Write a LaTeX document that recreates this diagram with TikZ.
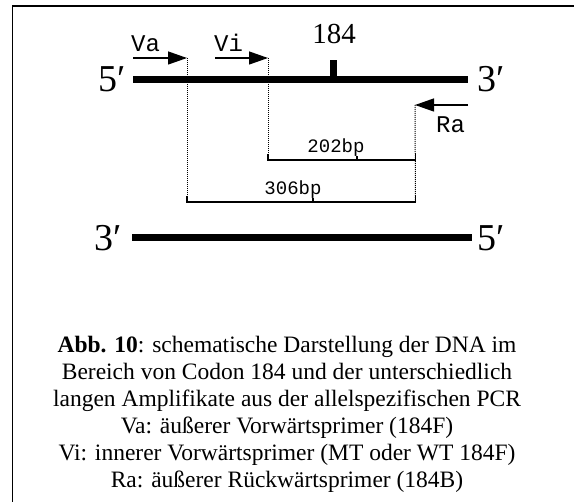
\documentclass[tikz,border=0pt]{standalone}
\usepackage{fontspec}
\setmainfont{Liberation Serif}
\newfontfamily\monof{Liberation Mono}
\usetikzlibrary{arrows.meta}
\begin{document}
\begin{tikzpicture}[x=1pt,y=-1pt,
  strand/.style={line width=7pt},
  primer/.style={line width=1.3pt,-{Triangle[length=19pt,width=13pt]}},
  dotline/.style={line width=1pt,dash pattern=on 1pt off 1pt},
  bracket/.style={line width=1.2pt},
  endlbl/.style={font=\fontsize{38}{38}\selectfont,inner sep=0pt},
  numlbl/.style={font=\fontsize{29}{29}\selectfont,inner sep=0pt},
  plbl/.style={font=\monof\fontsize{24}{24}\selectfont,inner sep=0pt,anchor=base west},
  bplbl/.style={font=\monof\fontsize{19}{19}\selectfont,inner sep=0pt,anchor=base},
  caplbl/.style={font=\fontsize{23.5}{27}\selectfont,inner sep=0pt,anchor=base}]
\useasboundingbox (0,0) rectangle (574,502);
% frame (top and left edges visible)
\coordinate (fl) at (12.5,502);
\coordinate (fc) at (12.5,6);
\coordinate (fr) at (574,6);
\draw[line width=1.5pt] (fl) -- (fc) -- (fr);
% top strand
\coordinate (t1) at (133,79.5);
\coordinate (t2) at (468,79.5);
\draw[strand] (t1) -- (t2);
\node[endlbl] (t5) at (112,79) {5′};
\node[endlbl] (t3) at (491,79) {3′};
% codon 184 tick
\coordinate (c0) at (333.5,79.5);
\coordinate (c1) at (333.5,60);
\draw[line width=7pt] (c0) -- (c1);
\node[numlbl] (c184) at (334,34) {184};
% bottom strand
\coordinate (b1) at (132,237.5);
\coordinate (b2) at (472,237.5);
\draw[strand] (b1) -- (b2);
\node[endlbl] (b3) at (108,238) {3′};
\node[endlbl] (b5) at (491,238) {5′};
% primers
\coordinate (va0) at (133,58);
\coordinate (va1) at (187,58);
\draw[primer] (va0) -- (va1);
\node[plbl] (va) at (131,52) {Va};
\coordinate (vi0) at (215,58);
\coordinate (vi1) at (268,58);
\draw[primer] (vi0) -- (vi1);
\node[plbl] (vi) at (214,52) {Vi};
\coordinate (ra0) at (468,105);
\coordinate (ra1) at (415,105);
\draw[primer] (ra0) -- (ra1);
\node[plbl] (ra) at (436,133) {Ra};
% dotted guides
\coordinate (vad) at (187,202);
\coordinate (vid) at (268,160);
\coordinate (rad) at (415.5,202);
\draw[dotline] (va1) -- (vad);
\draw[dotline] (vi1) -- (vid);
\draw[dotline] (ra1) -- (rad);
% 202bp bracket
\coordinate (p1) at (268,154);
\coordinate (p2) at (268,160);
\coordinate (p3) at (415.5,160);
\coordinate (p4) at (415.5,154);
\coordinate (pm0) at (357,160);
\coordinate (pm1) at (357,156);
\draw[bracket] (p1) -- (p2) -- (p3) -- (p4);
\draw[line width=2pt] (pm0) -- (pm1);
\node[bplbl] (l202) at (336,153) {202bp};
% 306bp bracket
\coordinate (q1) at (187,196);
\coordinate (q2) at (187,202);
\coordinate (q3) at (415.5,202);
\coordinate (q4) at (415.5,196);
\coordinate (qm0) at (313,202);
\coordinate (qm1) at (313,198);
\draw[bracket] (q1) -- (q2) -- (q3) -- (q4);
\draw[line width=2pt] (qm0) -- (qm1);
\node[bplbl] (l306) at (293,195) {306bp};
% caption
\node[caplbl] (cap1) at (287,353) {\textbf{Abb. 10}: schematische Darstellung der DNA im};
\node[caplbl] (cap2) at (287,380) {Bereich von Codon 184 und der unterschiedlich};
\node[caplbl] (cap3) at (287,407) {langen Amplifikate aus der allelspezifischen PCR};
\node[caplbl] (cap4) at (287,434) {Va: äußerer Vorwärtsprimer (184F)};
\node[caplbl] (cap5) at (287,461) {Vi: innerer Vorwärtsprimer (MT oder WT 184F)};
\node[caplbl] (cap6) at (287,488) {Ra: äußerer Rückwärtsprimer (184B)};
\end{tikzpicture}
\end{document}
